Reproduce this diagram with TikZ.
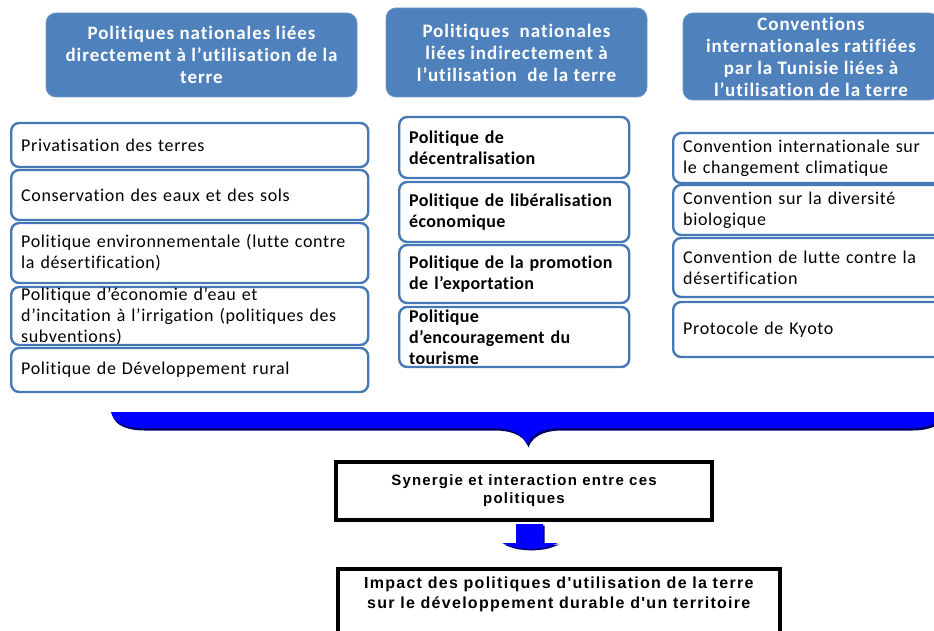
\documentclass[tikz,border=0pt]{standalone}
\usepackage{fontspec}
\setmainfont{Carlito}
\newfontfamily\hdrfont[LetterSpace=5, Ligatures=CommonOff]{Carlito}
\newfontfamily\itemfont[LetterSpace=3.5, Ligatures=CommonOff]{Carlito}
\newfontfamily\miditemfont[LetterSpace=2, Ligatures=CommonOff]{Carlito}
\newfontfamily\arialfont[LetterSpace=8]{Liberation Sans}
\definecolor{hdrblue}{RGB}{79,129,189}
\definecolor{hdredge}{RGB}{110,150,200}
\definecolor{boxblue}{RGB}{70,120,182}
\definecolor{bracefill}{RGB}{0,0,255}
\definecolor{braceshade}{RGB}{0,0,105}

\tikzset{
  hdr/.style={fill=hdrblue, draw=hdredge, line width=0.8pt, rounded corners=10pt,
    text=white, align=center, inner sep=0pt,
    font=\hdrfont\bfseries\fontsize{19}{22}\selectfont},
  itembox/.style={draw=boxblue, line width=2.4pt, rounded corners=8pt, fill=white,
    align=left, inner xsep=10pt, inner ysep=0pt, anchor=west,
    font=\itemfont\fontsize{18}{21}\selectfont},
  leftbox/.style={itembox, text width=337pt},
  midbox/.style={itembox, text width=210pt, font=\miditemfont\bfseries\fontsize{18}{21}\selectfont},
  rightbox/.style={itembox, text width=260pt},
  blackbox/.style={draw=black, line width=3.5pt, fill=white, align=center,
    inner sep=0pt, font=\arialfont\bfseries\fontsize{15}{18}\selectfont},
}

\begin{document}
\begin{tikzpicture}[x=1pt, y=-1pt]
\useasboundingbox (0,0) rectangle (934,631);
\clip (0,0) rectangle (934,631);

% column headings
\node[hdr, minimum width=311pt, minimum height=84pt] (h1) at (201.5,55)
  {Politiques nationales liées\\directement à l’utilisation de la\\terre};
\node[hdr, minimum width=261pt, minimum height=89pt] (h2) at (516.5,52.5)
  {Politiques\ \ nationales\\liées indirectement à\\l’utilisation\ \ de la terre};
\node[hdr, minimum width=256pt, minimum height=87pt] (h3) at (811,56.5)
  {Conventions\\internationales ratifiées\\par la Tunisie liées à\\l’utilisation de la terre};

% national policies directly linked to land use
\node[leftbox, minimum height=44pt] (l1) at (10,145) {Privatisation des terres};
\node[leftbox, minimum height=50pt] (l2) at (10,195) {Conservation des eaux et des sols};
\node[leftbox, minimum height=60pt] (l3) at (10,253)
  {Politique environnementale (lutte contre\\la désertification)};
\node[leftbox, minimum height=58pt] (l4) at (10,316)
  {Politique d’économie d’eau et\\d’incitation à l’irrigation (politiques des\\subventions)};
\node[leftbox, minimum height=44pt] (l5) at (10,370) {Politique de Développement rural};

% national policies indirectly linked to land use
\node[midbox, minimum height=61pt] (m1) at (398,147.5) {Politique de\\décentralisation};
\node[midbox, minimum height=60pt] (m2) at (398,212) {Politique de libéralisation\\économique};
\node[midbox, minimum height=58pt] (m3) at (398,274) {Politique de la promotion\\de l’exportation};
\node[midbox, minimum height=60pt] (m4) at (398,337) {Politique\\d’encouragement du\\tourisme};

% international conventions
\node[rightbox, minimum height=50pt] (r1) at (672,158)
  {Convention internationale sur\\le changement climatique};
\node[rightbox, minimum height=50pt] (r2) at (672,210) {Convention sur la diversité\\biologique};
\node[rightbox, minimum height=59pt] (r3) at (672,267.5)
  {Convention de lutte contre la\\désertification};
\node[rightbox, minimum height=55pt] (r4) at (672,329.5) {Protocole de Kyoto};

% brace gathering the three columns
\def\bracepath{(111,412) -- (943,412)
  .. controls (941,424) and (926,428) .. (911,428) -- (561,428)
  .. controls (539,428) and (530,436) .. (527,445)
  .. controls (524,436) and (515,428) .. (493,428) -- (143,428)
  .. controls (128,428) and (113,424) .. (111,412) -- cycle}
\fill[braceshade, shift={(1.5,2.5)}] \bracepath;
\fill[bracefill] \bracepath;

% synergy box
\node[blackbox, minimum width=376pt, minimum height=58pt] (syn) at (524,491)
  {Synergie et interaction entre ces\\politiques};

% small block arrow
\def\arrowpath{(516,524) -- (543,524) -- (543,543) -- (558,543)
  .. controls (545,548) .. (530,549) .. controls (515,548) .. (502,543)
  -- (516,543) -- cycle}
\fill[braceshade, shift={(1.5,1.5)}] \arrowpath;
\fill[bracefill] \arrowpath;

% impact box
\node[blackbox, minimum width=442pt, minimum height=90pt, anchor=north west] (imp) at (336,567) {};
\node[font=\arialfont\bfseries\fontsize{16}{20}\selectfont, align=center, anchor=north]
  (imptext) at ([yshift=-6pt]imp.north)
  {Impact des politiques d'utilisation de la terre\\sur le développement durable d'un territoire};
\end{tikzpicture}
\end{document}
